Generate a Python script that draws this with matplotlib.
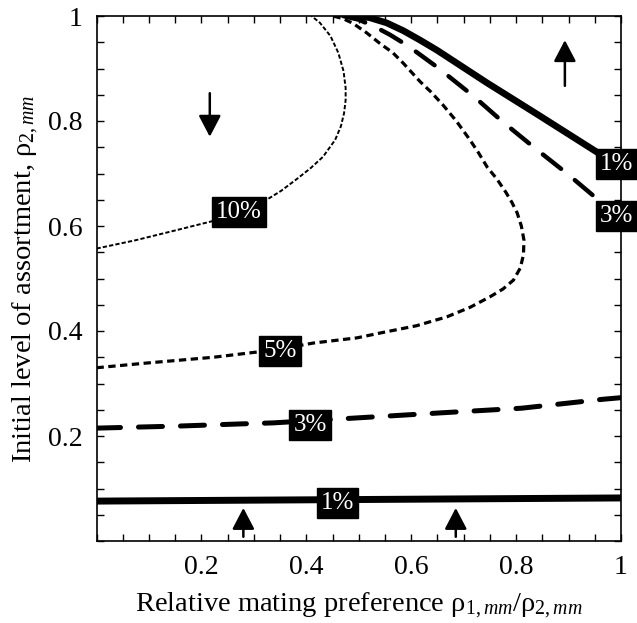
import matplotlib
matplotlib.use("Agg")
import matplotlib.pyplot as plt
from matplotlib.ticker import MultipleLocator, FixedLocator

plt.rcParams['font.family'] = ['Liberation Serif', 'DejaVu Serif']
plt.rcParams['mathtext.fontset'] = 'custom'
plt.rcParams['mathtext.rm'] = 'Liberation Serif'
plt.rcParams['mathtext.it'] = 'Liberation Serif:italic'

# ---- data ----
x_1_low = [0.0, 0.5, 1.0]
y_1_low = [0.076, 0.079, 0.082]

x_3_low = [0.0, 0.159, 0.274, 0.337, 0.489, 0.655, 0.811, 0.966, 1.0]
y_3_low = [0.215, 0.219, 0.223, 0.225, 0.234, 0.244, 0.253, 0.270, 0.273]

x_5 = [0.0, 0.096, 0.223, 0.34, 0.413, 0.497, 0.54, 0.61, 0.668, 0.712, 0.75,
       0.775, 0.795, 0.808, 0.814, 0.815, 0.81, 0.802, 0.792, 0.78, 0.763,
       0.745, 0.728, 0.712, 0.686, 0.661, 0.638, 0.617, 0.585, 0.565, 0.54,
       0.515, 0.489, 0.47, 0.451]
y_5 = [0.330, 0.339, 0.35, 0.364, 0.377, 0.387, 0.396, 0.41, 0.427, 0.445, 0.465,
       0.48, 0.497, 0.52, 0.545, 0.573, 0.60, 0.625, 0.645, 0.665, 0.69,
       0.712, 0.74, 0.764, 0.80, 0.83, 0.855, 0.875, 0.91, 0.93, 0.948,
       0.968, 0.986, 0.995, 1.0]

x_10 = [0.0, 0.075, 0.152, 0.228, 0.275, 0.318, 0.352, 0.38, 0.408, 0.432,
        0.455, 0.466, 0.472, 0.475, 0.475, 0.471, 0.461, 0.446, 0.426, 0.41]
y_10 = [0.557, 0.573, 0.592, 0.611, 0.628, 0.646, 0.667, 0.688, 0.71, 0.732,
        0.764, 0.79, 0.815, 0.84, 0.863, 0.895, 0.93, 0.962, 0.987, 1.0]

x_3_up = [0.47, 0.5, 0.53, 0.56, 0.594, 0.649, 0.718, 0.775, 0.84, 0.897, 0.954, 1.0]
y_3_up = [1.0, 0.993, 0.98, 0.964, 0.943, 0.903, 0.848, 0.798, 0.745, 0.70, 0.652, 0.612]

x_1_up = [0.49, 0.52, 0.553, 0.585, 0.617, 0.649, 0.744, 0.84, 0.96, 1.0]
y_1_up = [1.0, 0.997, 0.987, 0.972, 0.954, 0.935, 0.873, 0.813, 0.737, 0.712]

label_texts = ['10%', '5%', '3%', '1%', '1%', '3%']
label_x = [0.272, 0.35, 0.407, 0.46, 0.992, 0.992]
label_y = [0.627, 0.362, 0.221, 0.072, 0.718, 0.619]

arrow_x = [0.216, 0.893, 0.28, 0.685]
arrow_tail_y = [0.853, 0.867, 0.008, 0.008]
arrow_head_y = [0.770, 0.954, 0.063, 0.063]

xtick_labels = ['0.2', '0.4', '0.6', '0.8', '1']
xtick_pos = [0.2, 0.4, 0.6, 0.8, 1.0]
ytick_labels = ['0.2', '0.4', '0.6', '0.8', '1']
ytick_pos = [0.2, 0.4, 0.6, 0.8, 1.0]

# ---- figure ----
fig = plt.figure(figsize=(6.37, 6.23), dpi=100)
ax = fig.add_axes([96.5/637, (623-541)/623, (621-96.5)/637, (541-16)/623])
ax.set_xlim(0, 1)
ax.set_ylim(0, 1)

ax.plot(x_1_low, y_1_low, color='black', lw=5, solid_capstyle='round', zorder=3)
ax.plot(x_1_up, y_1_up, color='black', lw=4.8, solid_capstyle='round',
        solid_joinstyle='round', zorder=3)
ax.plot(x_3_low, y_3_low, color='black', lw=3.6, linestyle=(0, (4.8, 3.6)),
        dash_capstyle='round', zorder=3)
ax.plot(x_3_up, y_3_up, color='black', lw=3.2, linestyle=(0, (5.2, 4.0)),
        dash_capstyle='round', zorder=3)
ax.plot(x_5, y_5, color='black', lw=2.3, linestyle=(0, (2.3, 1.4)), zorder=3)
ax.plot(x_10, y_10, color='black', lw=1.4, linestyle=(0, (2.2, 1.1)), zorder=3)

for t, lx, ly in zip(label_texts, label_x, label_y):
    ax.text(lx, ly, t, color='white', fontsize=18, ha='center', va='center',
            zorder=5, clip_on=False,
            bbox=dict(boxstyle='square,pad=0.16', fc='black', ec='black'))

for axx, ty, hy in zip(arrow_x, arrow_tail_y, arrow_head_y):
    ax.annotate('', xy=(axx, hy), xytext=(axx, ty),
                arrowprops=dict(arrowstyle='-|>,head_length=0.65,head_width=0.34',
                                color='black', lw=1.8, mutation_scale=20,
                                shrinkA=0, shrinkB=0),
                zorder=4)

ax.xaxis.set_major_locator(FixedLocator(xtick_pos))
ax.yaxis.set_major_locator(FixedLocator(ytick_pos))
ax.set_xticklabels(xtick_labels)
ax.set_yticklabels(ytick_labels)
ax.xaxis.set_minor_locator(MultipleLocator(0.05))
ax.yaxis.set_minor_locator(MultipleLocator(0.05))
ax.tick_params(which='both', direction='in', top=True, right=True,
               length=5, width=1, labelsize=20)
ax.tick_params(axis='x', pad=10)
ax.tick_params(axis='y', pad=10)
for s in ax.spines.values():
    s.set_linewidth(1.2)

ax.set_xlabel(r'Relative mating preference ρ$_{1,\mathit{mm}}$/ρ$_{2,\mathit{mm}}$',
              fontsize=20.5, labelpad=8)
ax.set_ylabel(r'Initial level of assortment, ρ$_{2,\mathit{mm}}$', fontsize=20.5,
              labelpad=5)

fig.savefig('out.png', dpi=100)
